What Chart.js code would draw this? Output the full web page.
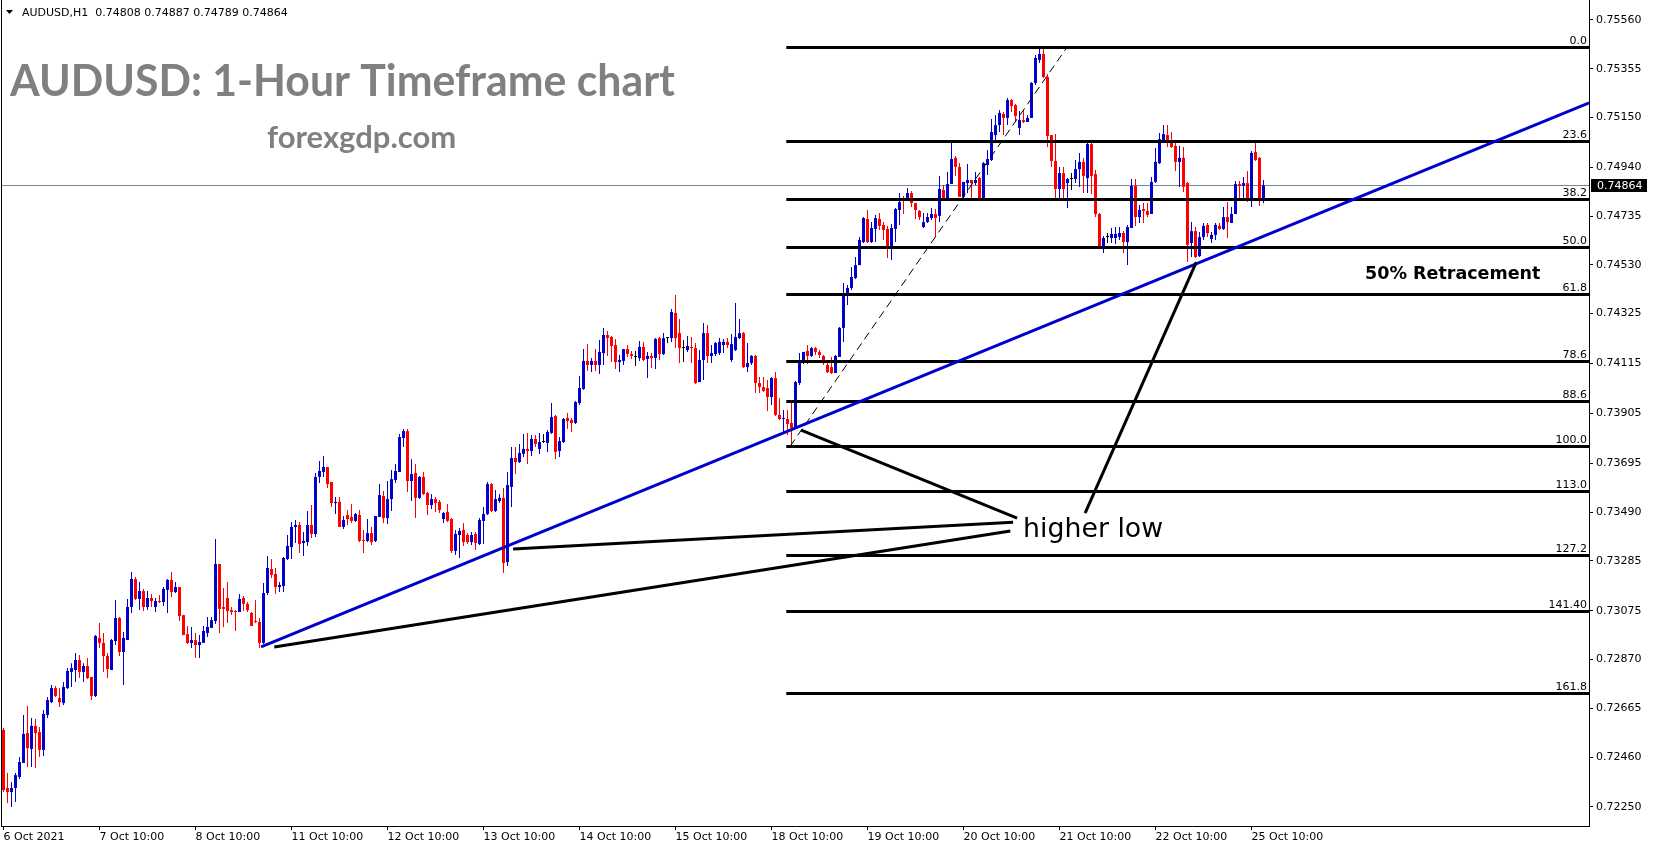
<!DOCTYPE html>
<html>
<head>
<meta charset="utf-8">
<title>AUDUSD H1</title>
<script src="https://cdn.jsdelivr.net/npm/chart.js@4.4.1/dist/chart.umd.min.js"></script>
<style>
  html, body { margin: 0; padding: 0; background: #fff; }
  #wrap { width: 1653px; height: 850px; position: relative; }
</style>
</head>
<body>
<div id="wrap"><canvas id="chart"></canvas></div>
<script>
// AUDUSD H1 candles, 6 Oct 2021 10:00 .. 25 Oct 2021 13:00 (one entry per hour)
// quotes are written in points: 74864 = 0.74864
var opens = [
  72574,72330,72313,72330,72376,72435,72561,72494,72591,72565,72490,72637,72691,72750,72708,72687,
  72750,72818,72826,72868,72818,72843,72797,72717,72961,72940,72885,72826,72948,73045,72902,72952,
  73091,73209,73125,73158,73091,73129,73091,73116,73112,73163,73205,73154,73175,73057,72977,72940,
  72952,72931,72940,72982,73003,73032,73272,73091,73129,73078,73074,73070,73129,73104,73066,73032,
  73028,72940,73150,73251,73230,73175,73179,73293,73343,73428,73436,73360,73364,73436,73398,73638,
  73659,73680,73617,73528,73533,73428,73478,73470,73453,73478,73373,73369,73402,73369,73470,73558,
  73465,73545,73625,73659,73802,73831,73621,73655,73550,73638,73571,73520,73545,73533,73461,73491,
  73461,73327,73394,73415,73394,73364,73398,73356,73453,73482,73608,73495,73537,73550,73280,73596,
  73718,73701,73735,73756,73747,73798,73756,73785,73781,73823,73894,73747,73785,73886,73878,73865,
  73949,74008,74126,74109,74126,74109,74159,74235,74227,74193,74121,74126,74176,74155,74143,74138,
  74185,74134,74147,74138,74222,74155,74222,74222,74328,74243,74180,74172,74185,74180,74037,74130,
  74243,74147,74155,74159,74193,74206,74130,74172,74222,74243,74100,74117,74147,74033,74016,74012,
  73974,74054,73899,73882,73882,73865,73844,74033,74117,74168,74147,74180,74164,74147,74109,74100,
  74075,74143,74265,74403,74433,74475,74529,74626,74723,74626,74681,74723,74698,74681,74609,74681,
  74761,74807,74807,74832,74790,74757,74689,74710,74727,74744,74736,74845,74803,74870,74980,74942,
  74816,74874,74887,74874,74895,74803,74950,74971,75076,75118,75165,75148,75223,75202,75106,75139,
  75131,75148,75295,75392,75417,75320,75076,74967,74849,74916,74874,74891,74891,74933,74963,74895,
  75038,74912,74744,74609,74647,74643,74643,74647,74664,74626,74685,74862,74731,74765,74757,74744,
  74879,74958,75055,75076,75043,75030,74963,74980,74874,74622,74672,74567,74647,74698,74639,74656,
  74694,74681,74731,74706,74744,74870,74862,74874,74807,75005,74980,74808
];
var highs = [
  72582,72393,72355,72393,72460,72637,72675,72624,72620,72586,72658,72713,72763,72759,72750,72776,
  72834,72855,72898,72889,72855,72877,72797,72973,73024,72982,72898,72956,73120,73049,72986,73125,
  73238,73217,73196,73167,73158,73146,73129,73142,73175,73209,73238,73196,73175,73057,73011,73007,
  72982,72973,73011,73049,73049,73377,73272,73171,73196,73091,73078,73146,73137,73112,73070,73120,
  73045,73192,73306,73293,73255,73196,73301,73394,73449,73457,73449,73406,73495,73520,73655,73705,
  73726,73680,73617,73554,73554,73474,73499,73524,73486,73499,73415,73461,73428,73474,73608,73579,
  73621,73667,73692,73819,73840,73840,73713,73692,73642,73659,73575,73566,73554,73541,73491,73524,
  73465,73415,73423,73444,73402,73406,73406,73465,73512,73617,73613,73583,73566,73592,73659,73764,
  73764,73777,73819,73823,73814,73814,73823,73819,73835,73949,73899,73806,73886,73907,73886,73957,
  74063,74176,74197,74138,74176,74214,74265,74252,74231,74218,74151,74176,74193,74168,74168,74210,
  74206,74164,74159,74222,74227,74243,74227,74344,74403,74302,74214,74231,74227,74201,74172,74286,
  74277,74193,74206,74222,74218,74222,74239,74370,74302,74248,74201,74151,74151,74058,74058,74046,
  74058,74079,73970,73920,73920,73957,74042,74159,74164,74193,74185,74185,74172,74151,74117,74143,
  74151,74269,74454,74445,74521,74563,74647,74731,74761,74710,74740,74748,74710,74694,74702,74769,
  74832,74820,74853,74841,74790,74761,74748,74748,74769,74765,74904,74866,74921,75043,74988,74958,
  74879,74954,74887,74921,74900,74963,75013,75143,75160,75181,75173,75232,75228,75207,75177,75181,
  75160,75299,75413,75442,75446,75333,75076,75080,74942,74942,74895,74916,74971,75001,74980,75043,
  75043,74929,74748,74651,74664,74685,74689,74689,74672,74698,74891,74891,74782,74790,74790,74900,
  75022,75085,75118,75118,75089,75043,75030,75026,74879,74710,74689,74668,74706,74706,74668,74706,
  74706,74773,74794,74773,74883,74883,74900,74925,75009,75047,74984,74887
];
var lows = [
  72313,72267,72250,72271,72368,72435,72418,72418,72414,72460,72464,72624,72687,72713,72670,72679,
  72746,72755,72776,72792,72776,72788,72700,72713,72919,72818,72792,72826,72931,72885,72763,72952,
  73066,73120,73078,73074,73078,73091,73070,73108,73095,73066,73133,73150,73032,72973,72935,72919,
  72877,72877,72940,72965,73003,73020,72982,73007,73024,73057,72990,73070,73074,73070,73011,73024,
  72919,72935,73142,73213,73146,73154,73154,73289,73293,73360,73318,73306,73348,73381,73385,73613,
  73638,73592,73512,73482,73428,73419,73436,73444,73449,73364,73318,73364,73352,73364,73470,73444,
  73440,73495,73613,73659,73764,73575,73537,73465,73545,73562,73478,73503,73491,73486,73444,73449,
  73318,73310,73297,73348,73356,73352,73331,73352,73356,73478,73491,73491,73528,73234,73263,73512,
  73650,73697,73722,73692,73726,73764,73735,73781,73743,73819,73713,73722,73781,73840,73827,73861,
  73941,74004,74084,74079,74084,74071,74109,74147,74121,74092,74079,74109,74143,74134,74105,74126,
  74126,74054,74096,74092,74130,74151,74201,74206,74180,74117,74121,74164,74117,74029,74037,74046,
  74117,74117,74147,74151,74159,74180,74121,74168,74218,74096,74079,74109,73991,73991,73995,73915,
  73941,73894,73878,73827,73814,73768,73840,74025,74113,74113,74143,74151,74138,74109,74075,74071,
  74075,74143,74206,74361,74424,74471,74529,74622,74622,74622,74626,74677,74635,74559,74550,74626,
  74698,74744,74807,74773,74723,74719,74685,74706,74719,74647,74710,74799,74799,74870,74904,74816,
  74803,74832,74803,74866,74803,74803,74908,74967,75047,75089,75076,75118,75173,75135,75076,75127,
  75131,75148,75287,75379,75316,75026,74942,74811,74811,74807,74769,74845,74874,74858,74832,74832,
  74828,74731,74609,74580,74622,74622,74618,74635,74580,74529,74685,74694,74706,74706,74731,74744,
  74874,74954,75043,75026,75022,74925,74858,74837,74542,74563,74559,74563,74635,74647,74622,74635,
  74677,74677,74643,74706,74744,74811,74803,74794,74773,74967,74778,74789
];
var closes = [
  72321,72313,72330,72384,72439,72557,72498,72591,72561,72490,72641,72700,72750,72717,72691,72755,
  72822,72834,72868,72818,72843,72792,72717,72969,72940,72885,72830,72952,73045,72902,72961,73091,
  73209,73125,73158,73091,73129,73116,73116,73112,73167,73205,73154,73175,73053,72973,72940,72952,
  72931,72944,72990,73007,73036,73272,73083,73083,73074,73070,73070,73125,73104,73078,73011,73028,
  72940,73150,73255,73226,73175,73184,73297,73348,73428,73436,73356,73369,73436,73398,73638,73663,
  73680,73608,73528,73533,73428,73457,73461,73453,73482,73369,73369,73402,73364,73474,73562,73465,
  73545,73629,73663,73806,73831,73621,73650,73550,73638,73566,73520,73545,73528,73499,73486,73453,
  73327,73398,73411,73364,73364,73394,73360,73457,73482,73608,73495,73545,73550,73276,73604,73718,
  73701,73739,73756,73747,73798,73777,73785,73785,73827,73890,73743,73789,73882,73873,73865,73953,
  74012,74126,74109,74126,74109,74164,74235,74222,74189,74121,74130,74176,74155,74147,74143,74185,
  74130,74147,74138,74218,74155,74222,74222,74332,74222,74180,74180,74189,74180,74033,74130,74243,
  74147,74159,74201,74206,74206,74193,74197,74227,74243,74100,74117,74147,74033,74016,74000,73974,
  74054,73899,73882,73886,73861,73844,74037,74117,74164,74147,74180,74164,74151,74117,74079,74075,
  74147,74265,74408,74433,74479,74529,74635,74727,74626,74685,74727,74694,74677,74609,74685,74765,
  74794,74799,74832,74790,74761,74731,74710,74731,74744,74727,74849,74803,74870,74975,74942,74816,
  74879,74887,74874,74887,74803,74958,74975,75089,75118,75169,75148,75223,75198,75156,75139,75131,
  75148,75295,75400,75417,75320,75072,74967,74849,74916,74849,74891,74891,74933,74963,74904,75038,
  74904,74744,74609,74643,74647,74660,74660,74664,74626,74689,74862,74731,74761,74757,74740,74879,
  74963,75059,75080,75043,75026,74963,74980,74858,74614,74672,74563,74647,74694,74664,74656,74698,
  74681,74731,74710,74744,74870,74862,74874,74807,75001,74971,74807,74864
];

// time axis: bar index of each labelled hour and its text
var dayIdx = [0, 24, 48, 72, 96, 120, 144, 168, 192, 216, 240, 264, 288, 312];
var dayLabels = ['6 Oct 2021', '7 Oct 10:00', '8 Oct 10:00', '11 Oct 10:00', '12 Oct 10:00',
  '13 Oct 10:00', '14 Oct 10:00', '15 Oct 10:00', '18 Oct 10:00', '19 Oct 10:00',
  '20 Oct 10:00', '21 Oct 10:00', '22 Oct 10:00', '25 Oct 10:00'];

// price axis
var priceTicks = [0.75560, 0.75355, 0.75150, 0.74940, 0.74735, 0.74530, 0.74325, 0.74115,
  0.73905, 0.73695, 0.73490, 0.73285, 0.73075, 0.72870, 0.72665, 0.72460, 0.72250];
var lastPrice = 0.74864;

// fibonacci tool drawn from the 18 Oct low to the 20 Oct high
var fibHigh = 0.75446;
var fibLow = 0.73768;
var fibRatios = [0, 0.236, 0.382, 0.5, 0.618, 0.786, 0.886, 1, 1.113, 1.272, 1.414, 1.618];
var fibLabels = ['0.0', '23.6', '38.2', '50.0', '61.8', '78.6', '88.6', '100.0', '113.0', '127.2', '141.40', '161.8'];
var fibStart = 195.7;

// drawn objects, anchored as [bar index, price]
var trendLine = [[64.4, 0.72923], [396.4, 0.75211]];
var fibDiagonal = [[196.7, 0.73768], [265.9, 0.75446]];
var higherLowLines = [
  [[199.4, 0.73835], [253.4, 0.73465]],
  [[127.4, 0.73335], [252.4, 0.73448]],
  [[67.7, 0.72923], [251.7, 0.73411]],
  [[270.4, 0.73486], [298.2, 0.74542]]
];
var higherLowText = [254.9, 0.73385];
var retraceText = [340.4, 0.74471];

var UP = '#0000CD', DOWN = '#FF0000', FLAT = '#000000';
var AXIS_FONT = { family: '"DejaVu Sans", Verdana, sans-serif', size: 11 };

function q(v) { return v / 100000; }

var candleColors = closes.map(function(c, i) {
  if (c > opens[i]) return UP;
  if (c < opens[i]) return DOWN;
  return FLAT;
});

var wickData = highs.map(function(h, i) { return { x: i, y: [q(lows[i]), q(h)] }; });
var bodyData = opens.map(function(o, i) { return { x: i, y: [q(o), q(closes[i])] }; });

function pt(chart, a) {
  return [chart.scales.x.getPixelForValue(a[0]), chart.scales.y.getPixelForValue(a[1])];
}

function line(ctx, a, b, width, color, dash) {
  ctx.save();
  ctx.beginPath();
  ctx.lineWidth = width;
  ctx.strokeStyle = color;
  ctx.setLineDash(dash || []);
  ctx.moveTo(a[0], a[1]);
  ctx.lineTo(b[0], b[1]);
  ctx.stroke();
  ctx.restore();
}

// bid line behind the candles
var bidLinePlugin = {
  id: 'bidLine',
  beforeDatasetsDraw: function(chart) {
    var ctx = chart.ctx, area = chart.chartArea;
    var y = Math.round(chart.scales.y.getPixelForValue(lastPrice)) + 0.5;
    line(ctx, [area.left, y], [area.right, y], 1, '#778899');
  }
};

// fibonacci levels, trend lines and notes over the candles
var objectsPlugin = {
  id: 'objects',
  afterDatasetsDraw: function(chart) {
    var ctx = chart.ctx, area = chart.chartArea;
    var xs = chart.scales.x, ys = chart.scales.y;

    ctx.save();
    ctx.beginPath();
    ctx.rect(area.left, area.top, area.right - area.left, area.bottom - area.top);
    ctx.clip();

    var x0 = xs.getPixelForValue(fibStart);
    ctx.font = '11px "DejaVu Sans", Verdana, sans-serif';
    ctx.textAlign = 'right';
    ctx.textBaseline = 'alphabetic';
    fibRatios.forEach(function(r, k) {
      var price = fibHigh - r * (fibHigh - fibLow);
      var y = Math.round(ys.getPixelForValue(price)) + 0.5;
      line(ctx, [x0, y], [area.right, y], 3, '#000');
      ctx.fillStyle = '#000';
      ctx.fillText(fibLabels[k], area.right - 2, y - 4);
    });

    line(ctx, pt(chart, fibDiagonal[0]), pt(chart, fibDiagonal[1]), 1, '#000', [8, 5]);
    line(ctx, pt(chart, trendLine[0]), pt(chart, trendLine[1]), 3, UP);
    higherLowLines.forEach(function(seg) {
      line(ctx, pt(chart, seg[0]), pt(chart, seg[1]), 3, '#000');
    });

    ctx.fillStyle = '#000';
    ctx.textAlign = 'left';
    var p = pt(chart, higherLowText);
    ctx.font = '27px "DejaVu Sans", Verdana, sans-serif';
    ctx.fillText('higher low', p[0], p[1], 140);
    p = pt(chart, retraceText);
    ctx.font = 'bold 17.5px "DejaVu Sans", Verdana, sans-serif';
    ctx.fillText('50% Retracement', p[0], p[1], 177);
    ctx.restore();
  },
  afterDraw: function(chart) {
    var ctx = chart.ctx, area = chart.chartArea;
    ctx.save();
    // frame
    ctx.strokeStyle = '#000';
    ctx.lineWidth = 1;
    ctx.beginPath();
    ctx.moveTo(area.left + 0.5, 0);
    ctx.lineTo(area.left + 0.5, area.bottom);
    ctx.stroke();

    // header line
    ctx.fillStyle = '#000';
    ctx.beginPath();
    ctx.moveTo(6, 10); ctx.lineTo(13, 10); ctx.lineTo(9.5, 14);
    ctx.closePath();
    ctx.fill();
    ctx.font = '11px "DejaVu Sans", Verdana, sans-serif';
    ctx.textAlign = 'left';
    ctx.textBaseline = 'alphabetic';
    ctx.fillText('AUDUSD,H1  0.74808 0.74887 0.74789 0.74864', 22, 16, 268);

    // titles
    ctx.fillStyle = '#808080';
    ctx.font = 'bold 44px Lato, "Open Sans", sans-serif';
    ctx.fillText('AUDUSD: 1-Hour Timeframe chart', 10, 96, 665);
    ctx.font = 'bold 31px Lato, "Open Sans", sans-serif';
    ctx.fillText('forexgdp.com', 267, 148, 190);

    // current price tag on the axis
    var y = Math.round(chart.scales.y.getPixelForValue(lastPrice));
    ctx.fillStyle = '#000';
    ctx.fillRect(area.right + 2, y - 6, 56, 13);
    ctx.fillStyle = '#fff';
    ctx.textBaseline = 'middle';
    ctx.font = '11px "DejaVu Sans", Verdana, sans-serif';
    ctx.fillText(lastPrice.toFixed(5), area.right + 8, y + 1);
    ctx.restore();
  }
};

function zeroPadding(scale) {
  scale.paddingTop = 0;
  scale.paddingBottom = 0;
  scale.paddingLeft = 0;
  scale.paddingRight = 0;
}

var chart = new Chart(document.getElementById('chart'), {
  type: 'bar',
  data: {
    datasets: [{
      label: 'wick',
      data: wickData,
      backgroundColor: candleColors,
      barThickness: 1,
      grouped: false,
      inflateAmount: 0,
      order: 2
    }, {
      label: 'body',
      data: bodyData,
      backgroundColor: candleColors,
      barThickness: 3,
      minBarLength: 1,
      grouped: false,
      inflateAmount: 0,
      order: 1
    }]
  },
  options: {
    responsive: true,
    maintainAspectRatio: false,
    animation: false,
    events: [],
    layout: { padding: { left: 1, top: 0, right: 0, bottom: 0 } },
    plugins: {
      legend: { display: false },
      tooltip: { enabled: false }
    },
    scales: {
      x: {
        type: 'linear',
        min: -0.625,
        max: 396.375,
        offset: false,
        afterBuildTicks: function(scale) {
          scale.ticks = dayIdx.map(function(v) { return { value: v }; });
        },
        afterFit: function(scale) { scale.height = 24; zeroPadding(scale); },
        ticks: {
          autoSkip: false,
          maxRotation: 0,
          align: 'start',
          padding: 1,
          color: '#000',
          font: AXIS_FONT,
          callback: function(value) { return dayLabels[dayIdx.indexOf(value)]; }
        },
        grid: { drawOnChartArea: false, offset: false, tickLength: 4, color: '#000' },
        border: { color: '#000', width: 1 }
      },
      y: {
        position: 'right',
        min: 0.72170,
        max: 0.75644,
        afterBuildTicks: function(scale) {
          scale.ticks = priceTicks.map(function(v) { return { value: v }; });
        },
        afterFit: function(scale) { scale.width = 64; zeroPadding(scale); },
        ticks: {
          autoSkip: false,
          padding: 3,
          color: '#000',
          font: AXIS_FONT,
          callback: function(value) { return value.toFixed(5); }
        },
        grid: { drawOnChartArea: false, tickLength: 4, color: '#000' },
        border: { color: '#000', width: 1 }
      }
    }
  },
  plugins: [bidLinePlugin, objectsPlugin]
});
</script>
</body>
</html>
